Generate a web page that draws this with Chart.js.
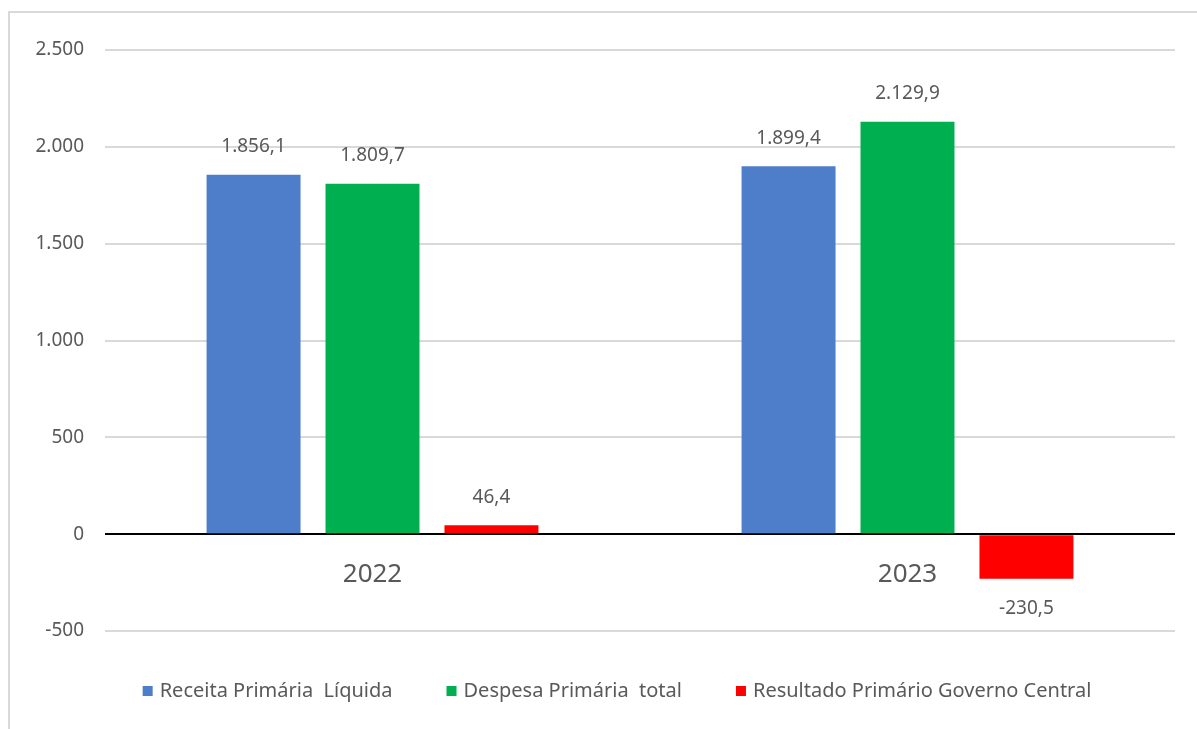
<!DOCTYPE html>
<html lang="pt-BR">
<head>
<meta charset="utf-8">
<title>Resultado Primário do Governo Central</title>
<script src="https://cdn.jsdelivr.net/npm/chart.js@4.4.1/dist/chart.umd.min.js"></script>
<style>
    html, body { margin: 0; padding: 0; background: #fff; overflow: hidden; }
    #wrap { position: relative; width: 1197px; height: 729px; }
</style>
</head>
<body>
<div id="wrap"><canvas id="resultadoChart"></canvas></div>
<script>
// Data (R$ bilhões)
const years = ['2022', '2023'];
const seriesNames = ['Receita Primária  Líquida', 'Despesa Primária  total', 'Resultado Primário Governo Central'];
const receita = [1856.1, 1899.4];
const despesa = [1809.7, 2129.9];
const resultado = [46.4, -230.5];
const yTicks = [-500, 0, 500, 1000, 1500, 2000, 2500];

const colors = ['#4E7DC9', '#00B050', '#FF0000'];
const textGray = '#595959';
const fontFamily = '"Noto Sans", "Open Sans", "DejaVu Sans", sans-serif';

// pt-BR number format without relying on ICU
function formatBR(value, decimals) {
    const neg = value < 0;
    const fixed = Math.abs(value).toFixed(decimals);
    let [intPart, decPart] = fixed.split('.');
    intPart = intPart.replace(/\B(?=(\d{3})+(?!\d))/g, '.');
    return (neg ? '-' : '') + intPart + (decPart ? ',' + decPart : '');
}

// Outer frame like the spreadsheet chart area
const framePlugin = {
    id: 'frame',
    beforeDraw(chart) {
        const ctx = chart.ctx;
        ctx.save();
        ctx.strokeStyle = '#d9d9d9';
        ctx.lineWidth = 2;
        ctx.strokeRect(9, 12, 1400, 1000);
        ctx.restore();
    }
};

// Value labels above (or below) each bar
const valueLabels = {
    id: 'valueLabels',
    afterDatasetsDraw(chart) {
        const ctx = chart.ctx;
        ctx.save();
        ctx.font = '19px ' + fontFamily;
        ctx.fillStyle = textGray;
        ctx.textAlign = 'center';
        ctx.textBaseline = 'middle';
        chart.data.datasets.forEach((ds, i) => {
            const meta = chart.getDatasetMeta(i);
            meta.data.forEach((bar, j) => {
                const v = ds.data[j];
                const y = v >= 0 ? bar.y - 28 : bar.y + 30;
                ctx.fillText(formatBR(v, 1), bar.x, y);
            });
        });
        ctx.restore();
    }
};

// Category labels sit just under the zero line
const categoryLabels = {
    id: 'categoryLabels',
    afterDraw(chart) {
        const ctx = chart.ctx;
        const xScale = chart.scales.x;
        const yZero = chart.scales.y.getPixelForValue(0);
        ctx.save();
        ctx.font = '26px ' + fontFamily;
        ctx.fillStyle = textGray;
        ctx.textAlign = 'center';
        ctx.textBaseline = 'middle';
        years.forEach((yr, i) => {
            ctx.fillText(yr, xScale.getPixelForValue(i), yZero + 40);
        });
        ctx.restore();
    }
};

// Legend drawn along the bottom
const bottomLegend = {
    id: 'bottomLegend',
    afterDraw(chart) {
        const ctx = chart.ctx;
        const box = 10, gap = 7, spacing = 54, yMid = 691, center = 617;
        ctx.save();
        ctx.font = '20px ' + fontFamily;
        ctx.textBaseline = 'middle';
        ctx.textAlign = 'left';
        const items = chart.data.datasets.map(ds => ({
            label: ds.label,
            color: ds.backgroundColor,
            w: ctx.measureText(ds.label).width
        }));
        const total = items.reduce((s, it) => s + box + gap + it.w, 0) + spacing * (items.length - 1);
        let x = center - total / 2;
        items.forEach(it => {
            ctx.fillStyle = it.color;
            ctx.fillRect(x, yMid - box / 2, box, box);
            ctx.fillStyle = textGray;
            ctx.fillText(it.label, x + box + gap, yMid);
            x += box + gap + it.w + spacing;
        });
        ctx.restore();
    }
};

const ctx = document.getElementById('resultadoChart').getContext('2d');
const resultadoChart = new Chart(ctx, {
    type: 'bar',
    data: {
        labels: years,
        datasets: [
            { label: seriesNames[0], data: receita, backgroundColor: colors[0] },
            { label: seriesNames[1], data: despesa, backgroundColor: colors[1] },
            { label: seriesNames[2], data: resultado, backgroundColor: colors[2] }
        ]
    },
    options: {
        responsive: true,
        maintainAspectRatio: false,
        animation: false,
        layout: {
            padding: { top: 50, right: 22, bottom: 0, left: 0 }
        },
        barPercentage: 0.79,
        categoryPercentage: 0.667,
        scales: {
            x: {
                grid: { display: false },
                border: { display: false },
                ticks: { display: false },
                afterFit: scale => { scale.height = 98; }
            },
            y: {
                min: -500,
                max: 2500,
                afterBuildTicks: scale => {
                    scale.ticks = yTicks.map(v => ({ value: v }));
                },
                afterFit: scale => { scale.width = 105; },
                border: { display: false },
                grid: {
                    drawTicks: false,
                    lineWidth: 2,
                    color: c => (c.tick && c.tick.value === 0 ? '#000000' : '#d9d9d9')
                },
                ticks: {
                    padding: 21,
                    color: textGray,
                    font: { size: 19, family: fontFamily },
                    callback: v => formatBR(v, 0)
                }
            }
        },
        plugins: {
            legend: { display: false },
            tooltip: { enabled: false }
        }
    },
    plugins: [framePlugin, valueLabels, categoryLabels, bottomLegend]
});
</script>
</body>
</html>
